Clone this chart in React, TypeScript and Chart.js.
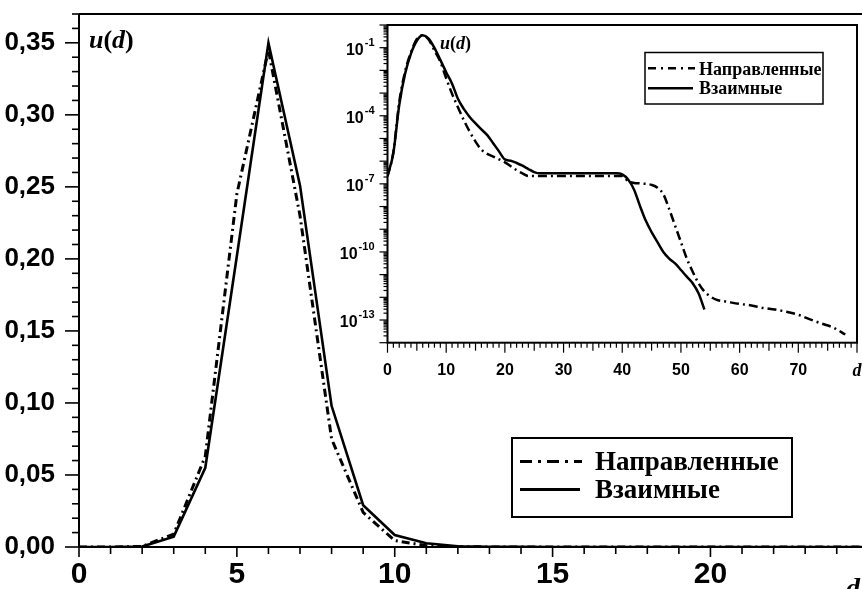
import React, { useEffect, useRef } from 'react';
import { Chart, registerables } from 'chart.js';

Chart.register(...registerables);

// ---- data ----
const LABEL_DIRECTED = 'Направленные';
const LABEL_MUTUAL = 'Взаимные';

// Взаимные (solid)
const dMutual = [
  0, 1, 2, 3, 4, 5, 6, 7, 8, 9, 10, 11, 12, 13, 14, 15, 16, 17, 18, 19, 20,
  21, 22, 23, 24, 25, 26, 27, 28, 29, 30, 31, 32, 33, 34, 35, 36, 37, 38, 39, 40,
  41, 42, 43, 44, 45, 46, 47, 48, 49, 50, 51, 52, 53, 54,
];
const uMutual = [
  2.3e-7, 2.3e-6, 3.0e-4, 0.0072, 0.055, 0.202, 0.35, 0.251, 0.098, 0.029, 0.0083,
  0.0026, 5.6e-4, 2.0e-4, 8.9e-5, 4.6e-5, 2.5e-5, 1.4e-5, 6.2e-6, 2.7e-6, 1.2e-6,
  1.05e-6, 8.3e-7, 6.3e-7, 4.5e-7, 3.3e-7, 2.9e-7, 2.9e-7, 2.9e-7, 2.9e-7, 2.9e-7,
  2.9e-7, 2.9e-7, 2.9e-7, 2.9e-7, 2.9e-7, 2.9e-7, 2.9e-7, 2.9e-7, 2.9e-7, 2.6e-7,
  1.55e-7, 5.7e-8, 1.1e-8, 2.4e-9, 7.4e-10, 2.7e-10, 1.0e-10, 5.1e-11, 3.1e-11, 1.6e-11,
  8.1e-12, 4.2e-12, 1.5e-12, 2.9e-13,
];

// Направленные (dash-dot)
const dDirected = [
  0, 1, 2, 3, 4, 5, 6, 7, 8, 9, 10, 11, 12, 13, 14, 15, 16, 17, 18, 19, 20,
  21, 22, 23, 24, 25, 26, 27, 28, 29, 30, 31, 32, 33, 34, 35, 36, 37, 38, 39, 40,
  41, 42, 43, 44, 45, 46, 47, 48, 49, 50, 51, 52, 53, 54, 55, 56,
  58, 60, 62, 64, 66, 68, 70, 72, 74, 76, 78,
];
const uDirected = [
  2.1e-7, 2.5e-6, 4.0e-4, 0.009, 0.063, 0.245, 0.345, 0.23, 0.075, 0.024, 0.0045,
  9.3e-4, 2.4e-4, 6.4e-5, 2.0e-5, 7.3e-6, 3.2e-6, 2.1e-6, 1.6e-6, 1.2e-6, 8.9e-7,
  6.0e-7, 4.0e-7, 2.9e-7, 2.2e-7, 2.2e-7, 2.2e-7, 2.2e-7, 2.2e-7, 2.2e-7, 2.2e-7,
  2.2e-7, 2.2e-7, 2.2e-7, 2.2e-7, 2.2e-7, 2.2e-7, 2.2e-7, 2.2e-7, 2.2e-7, 2.2e-7,
  1.3e-7, 1.1e-7, 1.05e-7, 1.0e-7, 9.0e-8, 6.8e-8, 3.5e-8, 7.7e-9, 1.45e-9, 2.7e-10,
  5.1e-11, 1.35e-11, 4.2e-12, 1.8e-12, 1.1e-12, 7.9e-13,
  6.3e-13, 5.1e-13, 4.4e-13, 3.4e-13, 2.9e-13, 2.3e-13, 1.7e-13, 1.07e-13, 6.9e-14, 4.6e-14, 2.3e-14,
];

const mainXTicks = [0, 5, 10, 15, 20];
const mainYTicks = [0, 0.05, 0.1, 0.15, 0.2, 0.25, 0.3, 0.35];
const insetXTicks = [0, 10, 20, 30, 40, 50, 60, 70, 80];
const insetYLabelExps = [-1, -4, -7, -10, -13];

const SANS = '"Liberation Sans", Arial, sans-serif';
const SERIF = '"Liberation Serif", "Times New Roman", serif';
const DASH_MAIN = [8, 4, 2, 4];
const DASH_INSET = [9, 4, 2, 4];

const toPoints = (xs: number[], ys: number[]) => xs.map((x, i) => ({ x, y: ys[i] }));

function drawUd(ctx: CanvasRenderingContext2D, x: number, y: number, size: number) {
  const parts: [string, boolean][] = [['u', true], ['(', false], ['d', true], [')', false]];
  let cx = x;
  ctx.textAlign = 'left';
  ctx.textBaseline = 'alphabetic';
  for (const [t, it] of parts) {
    ctx.font = `${it ? 'italic ' : ''}bold ${size}px ${SERIF}`;
    ctx.fillText(t, cx, y);
    cx += ctx.measureText(t).width;
  }
}

function line(ctx: CanvasRenderingContext2D, x1: number, y1: number, x2: number, y2: number) {
  ctx.beginPath();
  ctx.moveTo(x1, y1);
  ctx.lineTo(x2, y2);
  ctx.stroke();
}

const noPad = (s: any) => {
  s.paddingTop = 0;
  s.paddingBottom = 0;
  s.paddingLeft = 0;
  s.paddingRight = 0;
};

const mainDecor = {
  id: 'mainDecor',
  afterDraw(chart: any) {
    const { ctx, chartArea } = chart;
    const { left, top, right, bottom } = chartArea;
    const xs = chart.scales.x;
    const ys = chart.scales.y;
    ctx.save();
    ctx.strokeStyle = '#000';
    ctx.fillStyle = '#000';
    ctx.lineWidth = 2;
    ctx.setLineDash([]);
    line(ctx, left, top, right, top);
    line(ctx, left, top, left, bottom);
    line(ctx, left, bottom, right, bottom);
    ctx.lineWidth = 1.6;
    for (let v = 0; v <= 24; v++) {
      const px = xs.getPixelForValue(v);
      const len = v % 5 === 0 ? 10 : 7;
      line(ctx, px, bottom, px, bottom + len);
    }
    for (let i = 0; i <= 37; i++) {
      const py = ys.getPixelForValue(i / 100);
      const len = i % 5 === 0 ? 14 : 7;
      line(ctx, left - len, py, left, py);
    }
    drawUd(ctx, 89, 48, 26);

    // legend
    const ds = chart.data.datasets;
    ctx.lineWidth = 2;
    ctx.strokeRect(512, 438, 280, 79);
    ctx.lineWidth = 3;
    ctx.setLineDash([12, 6, 3, 6]);
    line(ctx, 520, 461.5, 582, 461.5);
    ctx.setLineDash([]);
    line(ctx, 520, 489.5, 580, 489.5);
    ctx.font = `bold 27px ${SERIF}`;
    ctx.textAlign = 'left';
    ctx.textBaseline = 'alphabetic';
    ctx.fillText(ds[0].label, 595, 470);
    ctx.fillText(ds[1].label, 595, 498);

    // axis symbol d (clipped by canvas edge)
    ctx.font = `italic bold 28px ${SERIF}`;
    ctx.fillText('d', 846, 597);
    ctx.restore();
  },
};

const insetDecor = {
  id: 'insetDecor',
  afterDraw(chart: any) {
    const { ctx, chartArea } = chart;
    const { left, top, right, bottom } = chartArea;
    const xs = chart.scales.x;
    const ys = chart.scales.y;
    ctx.save();
    ctx.strokeStyle = '#000';
    ctx.fillStyle = '#000';
    ctx.setLineDash([]);
    ctx.lineWidth = 2;
    ctx.strokeRect(left, top, right - left, bottom - top);
    ctx.lineWidth = 1.2;
    for (let v = 0; v <= 80; v++) {
      const px = xs.getPixelForValue(v);
      const len = v % 10 === 0 ? 10 : v % 5 === 0 ? 8 : 5;
      line(ctx, px, bottom, px, bottom + len);
    }
    for (let e = -14; e <= 0; e++) {
      const py = ys.getPixelForValue(Math.pow(10, e));
      line(ctx, left - 8, py, left, py);
      if (e < 0) {
        for (let k = 2; k <= 9; k++) {
          const pk = ys.getPixelForValue(k * Math.pow(10, e));
          line(ctx, left - 4, pk, left, pk);
        }
      }
    }
    ctx.textAlign = 'left';
    ctx.textBaseline = 'middle';
    for (const e of insetYLabelExps) {
      const py = ys.getPixelForValue(Math.pow(10, e));
      const base = '10';
      const sup = String(e);
      ctx.font = `bold 16px ${SANS}`;
      const wb = ctx.measureText(base).width;
      ctx.font = `bold 11px ${SANS}`;
      const ws = ctx.measureText(sup).width;
      const x0 = left - 13 - ws - wb - 1;
      ctx.font = `bold 16px ${SANS}`;
      ctx.fillText(base, x0, py + 3);
      ctx.font = `bold 11px ${SANS}`;
      ctx.fillText(sup, x0 + wb + 1, py - 5);
    }
    drawUd(ctx, 105, 31, 18);

    // legend
    const ds = chart.data.datasets;
    ctx.lineWidth = 1.5;
    ctx.strokeRect(310, 34.5, 178, 51.5);
    ctx.lineWidth = 2.5;
    ctx.setLineDash([8, 5, 2, 5]);
    line(ctx, 313, 50.3, 360, 50.3);
    ctx.setLineDash([]);
    line(ctx, 313, 70.3, 358, 70.3);
    ctx.font = `bold 18px ${SERIF}`;
    ctx.textBaseline = 'alphabetic';
    ctx.fillText(ds[0].label, 364, 56.5);
    ctx.fillText(ds[1].label, 364, 75.5);
    ctx.restore();
  },
};

export default function App() {
  const mainRef = useRef<HTMLCanvasElement>(null);
  const insetRef = useRef<HTMLCanvasElement>(null);

  useEffect(() => {
    document.body.style.margin = '0';
    const mainCanvas = mainRef.current!;
    const insetCanvas = insetRef.current!;

    const main = new Chart(mainCanvas, {
      type: 'line',
      data: {
        datasets: [
          {
            label: LABEL_DIRECTED,
            data: toPoints(dDirected, uDirected),
            borderColor: '#000',
            borderWidth: 3,
            borderDash: DASH_MAIN,
            pointRadius: 0,
            tension: 0,
            fill: false,
          },
          {
            label: LABEL_MUTUAL,
            data: toPoints(dMutual, uMutual),
            borderColor: '#000',
            borderWidth: 2.6,
            pointRadius: 0,
            tension: 0,
            fill: false,
          },
        ],
      },
      options: {
        responsive: false,
        animation: false,
        layout: { padding: { top: 14, left: 0, right: 0, bottom: 0 } },
        plugins: { legend: { display: false }, tooltip: { enabled: false } },
        scales: {
          x: {
            type: 'linear',
            min: 0,
            max: 24.8,
            grid: { display: false },
            border: { display: false },
            afterFit: (s: any) => { s.height = 42; noPad(s); },
            afterBuildTicks: (s: any) => { s.ticks = mainXTicks.map((v) => ({ value: v })); },
            ticks: {
              color: '#000',
              padding: 2,
              autoSkip: false,
              maxRotation: 0,
              font: { family: SANS, size: 30, weight: 'bold' },
              callback: (v: any) => String(v),
            },
          },
          y: {
            type: 'linear',
            min: 0,
            max: 0.37,
            grid: { display: false },
            border: { display: false },
            afterFit: (s: any) => { s.width = 79; noPad(s); },
            afterBuildTicks: (s: any) => { s.ticks = mainYTicks.map((v) => ({ value: v })); },
            ticks: {
              color: '#000',
              padding: 16,
              autoSkip: false,
              font: { family: SANS, size: 26, weight: 'bold' },
              callback: (v: any) => Number(v).toFixed(2).replace('.', ','),
            },
          },
        },
      } as any,
      plugins: [mainDecor],
    });

    const inset = new Chart(insetCanvas, {
      type: 'line',
      data: {
        datasets: [
          {
            label: LABEL_DIRECTED,
            data: toPoints(dDirected, uDirected),
            borderColor: '#000',
            borderWidth: 2.5,
            borderDash: DASH_INSET,
            pointRadius: 0,
            cubicInterpolationMode: 'monotone',
            fill: false,
          },
          {
            label: LABEL_MUTUAL,
            data: toPoints(dMutual, uMutual),
            borderColor: '#000',
            borderWidth: 2.5,
            pointRadius: 0,
            cubicInterpolationMode: 'monotone',
            fill: false,
          },
        ],
      },
      options: {
        responsive: false,
        animation: false,
        layout: { padding: { top: 7, left: 0, right: 5, bottom: 0 } },
        plugins: { legend: { display: false }, tooltip: { enabled: false } },
        scales: {
          x: {
            type: 'linear',
            min: 0,
            max: 80,
            grid: { display: false },
            border: { display: false },
            afterFit: (s: any) => { s.height = 35.3; noPad(s); },
            afterBuildTicks: (s: any) => { s.ticks = insetXTicks.map((v) => ({ value: v })); },
            ticks: {
              color: '#000',
              padding: 10,
              autoSkip: false,
              maxRotation: 0,
              font: (c: any) =>
                c.tick && c.tick.value === 80
                  ? { family: SERIF, size: 18, style: 'italic', weight: 'bold' }
                  : { family: SANS, size: 16, weight: 'bold' },
              callback: (v: any) => (Number(v) === 80 ? 'd' : String(v)),
            },
          },
          y: {
            type: 'logarithmic',
            min: 1e-14,
            max: 1,
            grid: { display: false },
            border: { display: false },
            afterFit: (s: any) => { s.width = 52.5; noPad(s); },
            ticks: { display: false },
          },
        },
      } as any,
      plugins: [insetDecor],
    });

    return () => {
      main.destroy();
      inset.destroy();
    };
  }, []);

  return (
    <div style={{ position: 'relative', width: 862, height: 589, overflow: 'hidden', background: '#fff' }}>
      <canvas
        ref={mainRef}
        width={862}
        height={589}
        style={{ position: 'absolute', left: 0, top: 0, width: 862, height: 589 }}
      />
      <canvas
        ref={insetRef}
        width={527}
        height={360}
        style={{ position: 'absolute', left: 335, top: 18, width: 527, height: 360 }}
      />
    </div>
  );
}
